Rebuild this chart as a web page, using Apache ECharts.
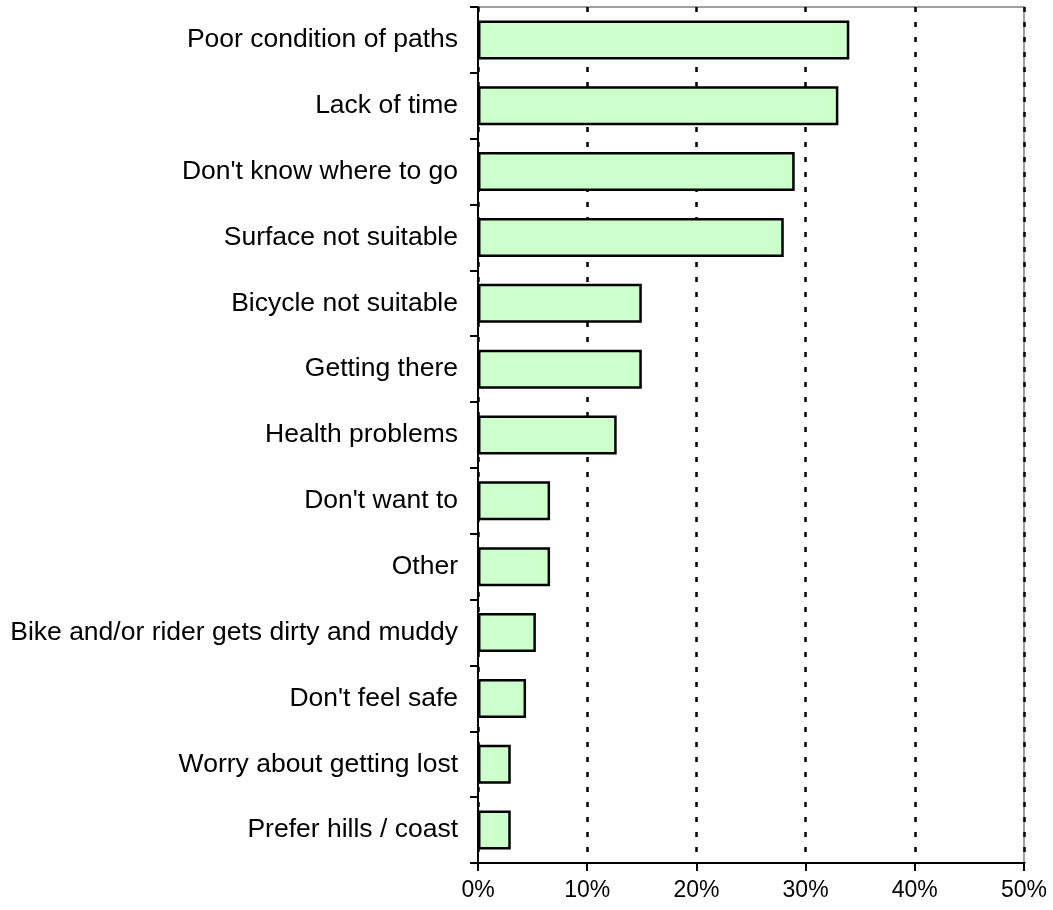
<!DOCTYPE html>
<html>
<head>
<meta charset="utf-8">
<script src="https://cdn.jsdelivr.net/npm/echarts@6/dist/echarts.min.js"></script>
<style>
html,body{margin:0;padding:0;background:#fff;}
#chart{width:1053px;height:910px;}
</style>
</head>
<body>
<div id="chart"></div>
<script>
const categories = [
  "Poor condition of paths",
  "Lack of time",
  "Don't know where to go",
  "Surface not suitable",
  "Bicycle not suitable",
  "Getting there",
  "Health problems",
  "Don't want to",
  "Other",
  "Bike and/or rider gets dirty and muddy",
  "Don't feel safe",
  "Worry about getting lost",
  "Prefer hills / coast"
];
const values = [34, 33, 29, 28, 15, 15, 12.7, 6.6, 6.6, 5.3, 4.4, 3, 3];
const xTicks = [0, 10, 20, 30, 40, 50];

const chart = echarts.init(document.getElementById('chart'), null, {renderer: 'canvas'});
chart.setOption({
  animation: false,
  backgroundColor: '#ffffff',
  grid: {
    left: 478, right: 29, top: 7, bottom: 47,
    show: true, borderColor: '#a0a0a0', borderWidth: 2, backgroundColor: 'transparent'
  },
  xAxis: {
    type: 'value',
    min: xTicks[0], max: xTicks[xTicks.length - 1], interval: 10,
    axisLine: {show: true, lineStyle: {color: '#000', width: 2}},
    axisTick: {show: true, length: 8, lineStyle: {color: '#000', width: 2}},
    axisLabel: {
      formatter: v => v + '%', color: '#000', fontSize: 23,
      fontFamily: 'Liberation Sans, Arial, sans-serif', margin: 16
    },
    splitLine: {show: true, lineStyle: {color: '#000', width: 2.5, type: [5, 10]}}
  },
  yAxis: {
    type: 'category',
    data: categories,
    inverse: true,
    axisLine: {show: true, lineStyle: {color: '#000', width: 2}},
    axisTick: {show: true, length: 8, lineStyle: {color: '#000', width: 2}},
    axisLabel: {
      color: '#000', fontSize: 26.5, margin: 20,
      fontFamily: 'Liberation Sans, Arial, sans-serif'
    },
    splitLine: {show: false}
  },
  series: [{
    type: 'bar',
    data: values,
    barWidth: 39,
    itemStyle: {color: '#CCFFCC', borderColor: '#000', borderWidth: 2.5}
  }]
});
</script>
</body>
</html>
